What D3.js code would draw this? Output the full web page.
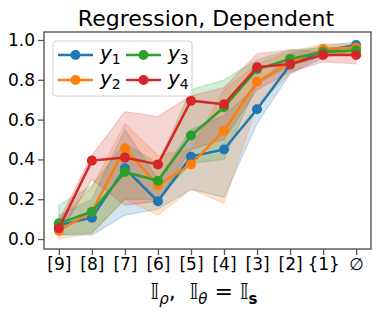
<!DOCTYPE html>
<html><head><meta charset="utf-8">
<script src="https://cdn.jsdelivr.net/npm/d3@7"></script>
<style>body{margin:0;background:#fff}svg{display:block}text{font-family:"DejaVu Sans",sans-serif}</style>
</head><body>
<svg id="c" width="379" height="312"></svg>
<script>
const categories = ["[9]","[8]","[7]","[6]","[5]","[4]","[3]","[2]","{1}","\u2205"];
const yTicks = [0.0,0.2,0.4,0.6,0.8,1.0];
const seriesNames = ["1","2","3","4"];
const colors = ["#1f77b4","#ff7f0e","#2ca02c","#d62728"];
const y1 = [0.07,0.107,0.355,0.19,0.414,0.45,0.652,0.875,0.945,0.975];
const y2 = [0.042,0.137,0.456,0.27,0.375,0.544,0.79,0.885,0.955,0.962];
const y3 = [0.079,0.137,0.337,0.293,0.52,0.662,0.853,0.905,0.94,0.948];
const y4 = [0.054,0.394,0.409,0.375,0.695,0.677,0.863,0.879,0.925,0.925];
const y1Lo = [0.02,0.02,0.12,0.15,0.25,0.21,0.58,0.83,0.91,0.95];
const y1Hi = [0.12,0.20,0.55,0.30,0.55,0.62,0.77,0.93,0.97,0.99];
const y2Lo = [0.0,0.03,0.20,0.12,0.25,0.18,0.67,0.83,0.93,0.93];
const y2Hi = [0.10,0.26,0.58,0.42,0.45,0.75,0.88,0.94,0.98,0.98];
const y3Lo = [0.02,0.03,0.20,0.20,0.38,0.40,0.78,0.87,0.92,0.93];
const y3Hi = [0.17,0.27,0.48,0.38,0.75,0.80,0.90,0.95,0.96,0.97];
const y4Lo = [0.02,0.30,0.17,0.19,0.45,0.50,0.75,0.84,0.89,0.88];
const y4Hi = [0.09,0.42,0.64,0.615,0.72,0.76,0.93,0.95,0.94,0.94];

const vals = [y1,y2,y3,y4], los = [y1Lo,y2Lo,y3Lo,y4Lo], his = [y1Hi,y2Hi,y3Hi,y4Hi];
const L=44,R=371,T=32,B=249;
const svg = d3.select("#c");
const x = d3.scalePoint().domain(categories).range([L,R]).padding(0.45);
const y = d3.scaleLinear().domain([-0.05,1.04]).range([B,T]);

// bands
const area = d3.area().x((d,i)=>x(categories[i])).y0(d=>y(d[0])).y1(d=>y(d[1]));
vals.forEach((v,s)=>{
  const data = v.map((_,i)=>[los[s][i],his[s][i]]);
  svg.append("path").attr("d",area(data)).attr("fill",colors[s]).attr("fill-opacity",0.2)
    .attr("stroke",colors[s]).attr("stroke-opacity",0.2).attr("stroke-width",1.3);
});
// lines
const line = d3.line().x((d,i)=>x(categories[i])).y(d=>y(d));
vals.forEach((v,s)=>{
  svg.append("path").attr("d",line(v)).attr("fill","none").attr("stroke",colors[s]).attr("stroke-width",2.5);
  svg.selectAll(null).data(v).enter().append("circle")
    .attr("cx",(d,i)=>x(categories[i])).attr("cy",d=>y(d)).attr("r",5).attr("fill",colors[s]);
});

// axes
const frameCol="#555";
const xAxis = svg.append("g").attr("transform",`translate(0,${B})`)
  .call(d3.axisBottom(x).tickSize(6).tickPadding(3));
const yAxis = svg.append("g").attr("transform",`translate(${L},0)`)
  .call(d3.axisLeft(y).tickValues(yTicks).tickFormat(d3.format(".1f")).tickSize(6).tickPadding(3));
[xAxis,yAxis].forEach(g=>{
  g.select(".domain").remove();
  g.selectAll(".tick line").attr("stroke",frameCol).attr("stroke-width",1.3);
  g.selectAll(".tick text").attr("fill","#000").style("font-size","17px").style("font-family","DejaVu Sans");
});
svg.append("rect").attr("x",L).attr("y",T).attr("width",R-L).attr("height",B-T)
  .attr("fill","none").attr("stroke",frameCol).attr("stroke-width",1.4);

// title
svg.append("text").attr("x",206).attr("y",25.5).attr("text-anchor","middle")
  .style("font-size","22px").text("Regression, Dependent");

// x label
const xl = svg.append("text").attr("x",204).attr("y",299).attr("text-anchor","middle").style("font-size","22px");
xl.append("tspan").text("\u{1D540}");
xl.append("tspan").attr("dy",5).style("font-size","15px").style("font-style","italic").text("\u03C1");
xl.append("tspan").attr("dy",-5).text(",\u00A0\u00A0\u{1D540}");
xl.append("tspan").attr("dy",5).style("font-size","15px").style("font-style","italic").text("\u03B8");
xl.append("tspan").attr("dy",-5).text(" = \u{1D540}");
xl.append("tspan").attr("dy",5).style("font-size","15px").style("font-weight","bold").text("s");

// legend
const lg = svg.append("g");
lg.append("rect").attr("x",53).attr("y",41).attr("width",139).attr("height",55).attr("rx",3)
  .attr("fill","#fff").attr("fill-opacity",0.8).attr("stroke","#d0d0d0").attr("stroke-width",1);
const pos = [[58,55],[58,80],[126,55],[126,80]];
seriesNames.forEach((n,s)=>{
  const [px,py]=pos[s];
  lg.append("line").attr("x1",px).attr("x2",px+35).attr("y1",py).attr("y2",py).attr("stroke",colors[s]).attr("stroke-width",2.5);
  lg.append("circle").attr("cx",px+17.5).attr("cy",py).attr("r",5).attr("fill",colors[s]);
  const t = lg.append("text").attr("x",px+42).attr("y",py+5).style("font-size","20px");
  t.append("tspan").style("font-style","italic").text("y");
  t.append("tspan").attr("dy",4).style("font-size","14px").text(n);
});
</script>
</body></html>
